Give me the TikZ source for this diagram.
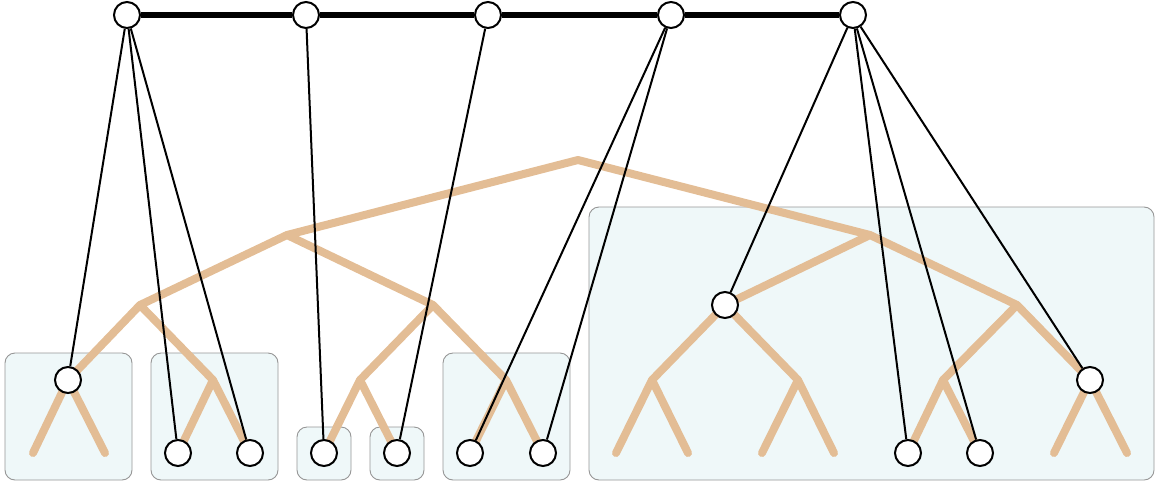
\documentclass[tikz,border=0pt]{standalone}
\begin{document}
\begin{tikzpicture}[x=1pt,y=-1pt,
  tan/.style={draw={rgb,255:red,227;green,189;blue,149},line width=8,line cap=round,line join=round},
  boxst/.style={draw={rgb,255:red,150;green,150;blue,150},fill={rgb,255:red,239;green,248;blue,249},line width=0.9,rounded corners=10},
  conn/.style={draw=black,line width=2},
  dot/.style={circle,draw=black,fill=white,line width=2,minimum size=26,inner sep=0}]
\useasboundingbox (0,0) rectangle (1156,485);
% boxes
\draw[boxst] (5,353) rectangle (132,480);
\draw[boxst] (151,353) rectangle (278,480);
\draw[boxst] (297,427) rectangle (351,480);
\draw[boxst] (370,427) rectangle (424,480);
\draw[boxst] (443,353) rectangle (570,480);
\draw[boxst] (589,207) rectangle (1154,480);
% tree coordinates
\coordinate (r) at (578,160);
\coordinate (a) at (287,235); \coordinate (b) at (870,235);
\coordinate (aa) at (140,305); \coordinate (ab) at (433,305);
\coordinate (ba) at (725,305); \coordinate (bb) at (1017,305);
\coordinate (aaa) at (68,380); \coordinate (aab) at (213,380);
\coordinate (aba) at (360,380); \coordinate (abb) at (506,380);
\coordinate (baa) at (652,380); \coordinate (bab) at (798,380);
\coordinate (bba) at (943,380); \coordinate (bbb) at (1090,380);
\foreach \p/\l/\r in {aaa/33/105,aab/178/250,aba/324/397,abb/470/543,baa/616/688,bab/762/834,bba/908/980,bbb/1054/1127}{
  \coordinate (\p L) at (\l,453); \coordinate (\p R) at (\r,453);
}
\draw[tan] (a) -- (r) -- (b);
\draw[tan] (aa) -- (a) -- (ab);
\draw[tan] (ba) -- (b) -- (bb);
\draw[tan] (aaa) -- (aa) -- (aab);
\draw[tan] (aba) -- (ab) -- (abb);
\draw[tan] (baa) -- (ba) -- (bab);
\draw[tan] (bba) -- (bb) -- (bbb);
\foreach \p in {aaa,aab,aba,abb,baa,bab,bba,bbb}{
  \draw[tan] (\p L) -- (\p) -- (\p R);
}
% top nodes
\node[dot] (t1) at (127,15) {};
\node[dot] (t2) at (306,15) {};
\node[dot] (t3) at (488,15) {};
\node[dot] (t4) at (671,15) {};
\node[dot] (t5) at (853,15) {};
% bottom nodes
\node[dot] (n1) at (aaa) {};
\node[dot] (n2) at (aabL) {};
\node[dot] (n3) at (aabR) {};
\node[dot] (n4) at (abaL) {};
\node[dot] (n5) at (abaR) {};
\node[dot] (n6) at (abbL) {};
\node[dot] (n7) at (abbR) {};
\node[dot] (n8) at (ba) {};
\node[dot] (n9) at (bbaL) {};
\node[dot] (n10) at (bbaR) {};
\node[dot] (n11) at (bbb) {};
% connectors
\draw[conn] (t1) -- (n1); \draw[conn] (t1) -- (n2); \draw[conn] (t1) -- (n3);
\draw[conn] (t2) -- (n4);
\draw[conn] (t3) -- (n5);
\draw[conn] (t4) -- (n6); \draw[conn] (t4) -- (n7);
\draw[conn] (t5) -- (n8); \draw[conn] (t5) -- (n9); \draw[conn] (t5) -- (n10); \draw[conn] (t5) -- (n11);
\draw[line width=6] (t1) -- (t2) -- (t3) -- (t4) -- (t5);
\end{tikzpicture}
\end{document}
